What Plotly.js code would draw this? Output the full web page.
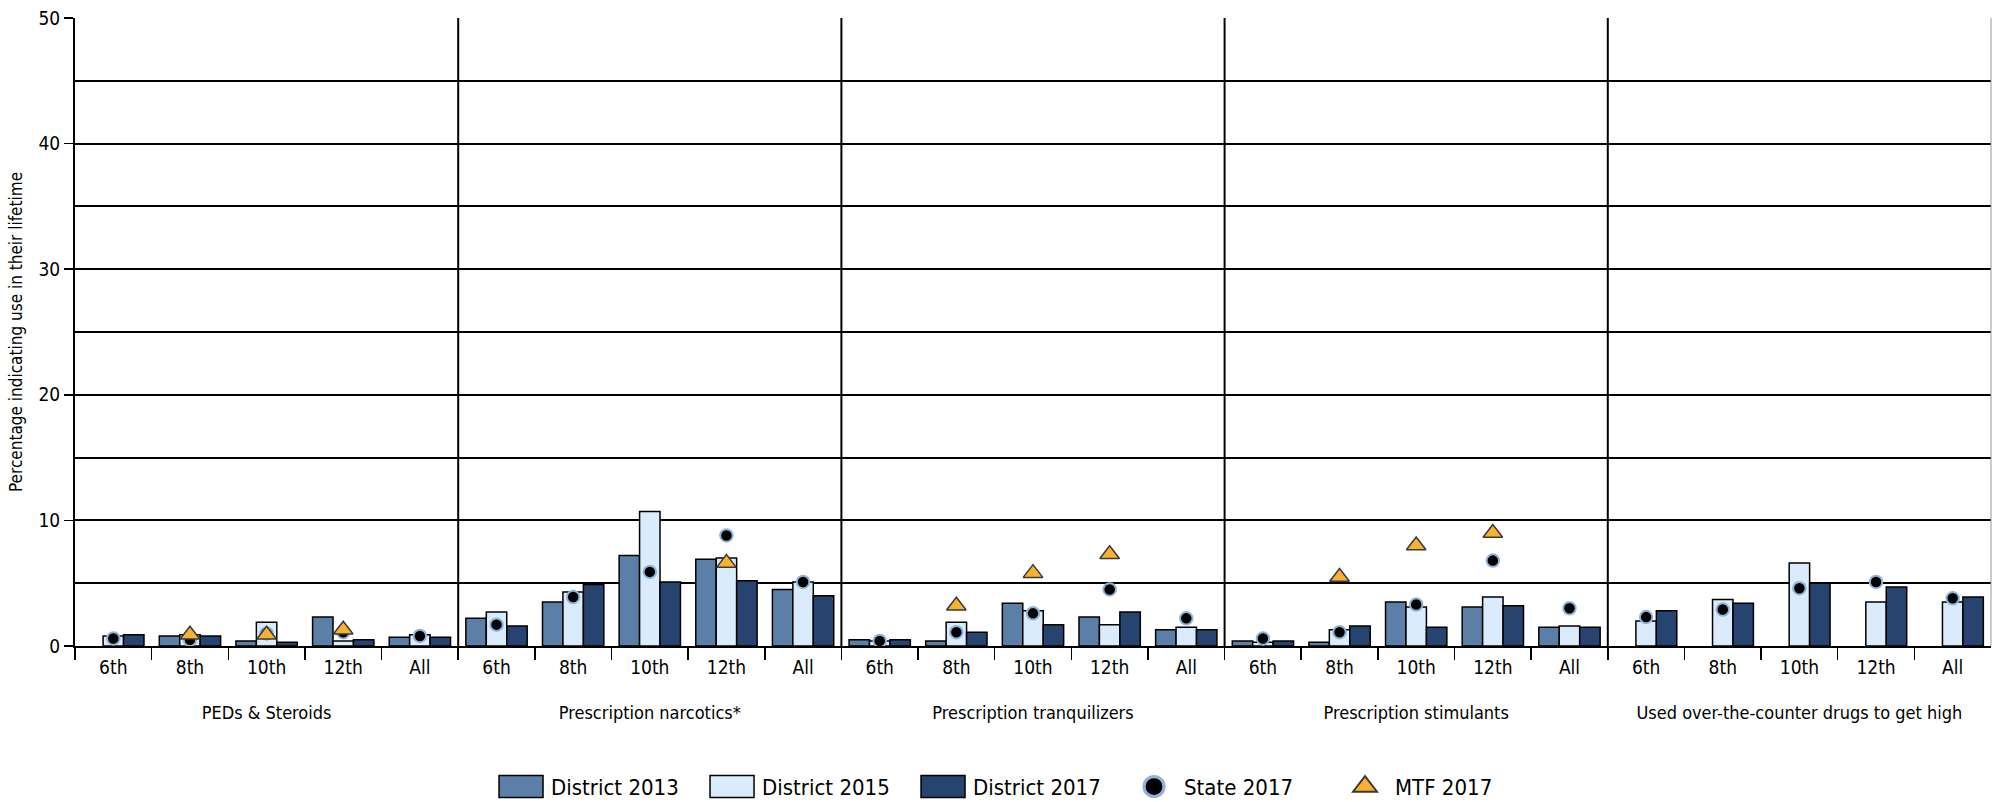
<!DOCTYPE html>
<html>
<head>
<meta charset="utf-8">
<script src="https://cdn.plot.ly/plotly-3.0.1.min.js"></script>
<style>html,body{margin:0;padding:0;background:#fff;}</style>
</head>
<body>
<div id="chart" style="width:1992px;height:802px;"></div>
<script>
// ---- data ----
const grades = ['6th', '8th', '10th', '12th', 'All'];
const panels = ['PEDs &amp; Steroids', 'Prescription narcotics*', 'Prescription tranquilizers', 'Prescription stimulants', 'Used over-the-counter drugs to get high'];
const seriesNames = ['District 2013', 'District 2015', 'District 2017', 'State 2017', 'MTF 2017'];

// one row per panel, one value per grade
const district2013 = [
  [null, 0.8, 0.4, 2.3, 0.7],
  [2.2, 3.5, 7.2, 6.9, 4.5],
  [0.5, 0.4, 3.4, 2.3, 1.3],
  [0.4, 0.3, 3.5, 3.1, 1.5],
  [null, null, null, null, null]
];
const district2015 = [
  [0.8, 0.9, 1.9, 0.4, 0.9],
  [2.7, 4.3, 10.7, 7.0, 5.1],
  [0.4, 1.9, 2.8, 1.7, 1.5],
  [0.3, 1.3, 3.1, 3.9, 1.6],
  [2.0, 3.7, 6.6, 3.5, 3.5]
];
const district2017 = [
  [0.9, 0.8, 0.3, 0.5, 0.7],
  [1.6, 4.9, 5.1, 5.2, 4.0],
  [0.5, 1.1, 1.7, 2.7, 1.3],
  [0.4, 1.6, 1.5, 3.2, 1.5],
  [2.8, 3.4, 5.0, 4.7, 3.9]
];
const state2017 = [
  [0.6, 0.5, 1.0, 1.1, 0.8],
  [1.7, 3.9, 5.9, 8.8, 5.1],
  [0.4, 1.1, 2.6, 4.5, 2.2],
  [0.6, 1.1, 3.3, 6.8, 3.0],
  [2.3, 2.9, 4.6, 5.1, 3.8]
];
const mtf2017 = [
  [null, 0.9, 0.9, 1.3, null],
  [null, null, null, 6.6, null],
  [null, 3.2, 5.8, 7.3, null],
  [null, 5.5, 8.0, 9.0, null],
  [null, null, null, null, null]
];
const yTicks = [0, 10, 20, 30, 40, 50];
const yMinorTicks = [5, 15, 25, 35, 45];

// ---- styles ----
const FONT = '"DejaVu Sans Condensed", "Liberation Sans Narrow", sans-serif';
const C13 = '#5b7fa7', C15 = '#daecfc', C17 = '#26446f';
const CSTATE = '#000000', CSTATE_LINE = '#8fb4dc';
const CMTF = '#f8b22f', CMTF_LINE = '#3a3a3a';

const traces = [];
panels.forEach((p, i) => {
  const xa = i === 0 ? 'x' : 'x' + (i + 1);
  const show = i === 0;
  const barLine = {color: '#000', width: 1.5};
  traces.push({type: 'bar', name: seriesNames[0], legendgroup: 'a', showlegend: show,
    x: grades, y: district2013[i], xaxis: xa, yaxis: 'y',
    marker: {color: C13, line: barLine}});
  traces.push({type: 'bar', name: seriesNames[1], legendgroup: 'b', showlegend: show,
    x: grades, y: district2015[i], xaxis: xa, yaxis: 'y',
    marker: {color: C15, line: barLine}});
  traces.push({type: 'bar', name: seriesNames[2], legendgroup: 'c', showlegend: show,
    x: grades, y: district2017[i], xaxis: xa, yaxis: 'y',
    marker: {color: C17, line: barLine}});
  traces.push({type: 'scatter', mode: 'markers', name: seriesNames[3], legendgroup: 'd', showlegend: show,
    x: grades, y: state2017[i], xaxis: xa, yaxis: 'y',
    marker: {symbol: 'circle', size: 12.5, color: CSTATE, line: {color: CSTATE_LINE, width: 2}}});
  traces.push({type: 'scatter', mode: 'markers', name: seriesNames[4], legendgroup: 'e', showlegend: show,
    x: grades, y: mtf2017[i], xaxis: xa, yaxis: 'y',
    marker: {symbol: 'triangle-up', size: 17, color: CMTF, line: {color: CMTF_LINE, width: 1.5}}});
});

const layout = {
  width: 1992, height: 802,
  margin: {l: 75, r: 1, t: 18, b: 156},
  paper_bgcolor: '#ffffff', plot_bgcolor: '#ffffff',
  font: {family: FONT, size: 18, color: '#000'},
  barmode: 'group', bargap: 0.2, bargroupgap: 0,
  showlegend: true,
  legend: {orientation: 'h', xref: 'container', yref: 'container', x: 0.2465, y: 0.019,
    xanchor: 'left', yanchor: 'middle', font: {size: 22, family: FONT}, itemwidth: 50,
    entrywidth: 146, entrywidthmode: 'pixels',
    traceorder: 'normal', bgcolor: 'rgba(0,0,0,0)'},
  yaxis: {
    range: [0, 50], tickvals: yTicks, ticktext: yTicks.map(String),
    ticks: 'outside', ticklen: 9, tickwidth: 1.5, tickcolor: '#000',
    showline: true, linewidth: 2, linecolor: '#000',
    showgrid: true, gridcolor: '#000', gridwidth: 2, zeroline: false,
    minor: {tickvals: yMinorTicks, showgrid: true, gridcolor: '#000', gridwidth: 2, ticks: ''},
    tickfont: {size: 19},
    title: {text: 'Percentage indicating use in their lifetime', font: {size: 17}, standoff: 12},
    fixedrange: true
  },
  shapes: []
};
panels.forEach((p, i) => {
  const key = i === 0 ? 'xaxis' : 'xaxis' + (i + 1);
  layout[key] = {
    domain: [i / 5, (i + 1) / 5], anchor: 'y', type: 'category',
    categoryorder: 'array', categoryarray: grades, range: [-0.5, 4.5],
    tickson: 'boundaries', ticks: 'outside', ticklen: 12, tickwidth: 1.5, tickcolor: '#000',
    showline: true, linewidth: 2, linecolor: '#000', showgrid: false, zeroline: false,
    tickfont: {size: 19}, ticklabelstandoff: 3,
    title: {text: p, font: {size: 18}, standoff: 30},
    fixedrange: true
  };
  if (i > 0) {
    layout.shapes.push({type: 'line', xref: 'paper', yref: 'paper', x0: i / 5, x1: i / 5, y0: 0, y1: 1,
      line: {color: '#000', width: 2}});
  }
});
layout.shapes.push({type: 'line', xref: 'paper', yref: 'paper', x0: 1, x1: 1, y0: 0, y1: 1,
  line: {color: '#999', width: 1}});

Plotly.newPlot('chart', traces, layout, {staticPlot: true, displayModeBar: false}).then(gd => {
  // enlarge legend symbols to match the reference
  gd.querySelectorAll('.legend .legendpoints path').forEach(p => {
    const d = (p.getAttribute('d') || '').replace(/\s/g, '');
    if (d.indexOf('M6,6H-6V-6H6Z') === 0 || p.classList.contains('legendbar')) {
      p.setAttribute('d', 'M22,11H-22V-11H22Z');
    }
  });
  gd.querySelectorAll('.legend g.traces').forEach(g => {
    const txt = (g.querySelector('text') || {}).textContent || '';
    const k = txt.indexOf('State') >= 0 ? 1.6 : 1.3;
    g.querySelectorAll('path.scatterpts').forEach(p => {
      p.setAttribute('transform', (p.getAttribute('transform') || '') + ' scale(' + k + ')');
    });
  });
});
</script>
</body>
</html>
